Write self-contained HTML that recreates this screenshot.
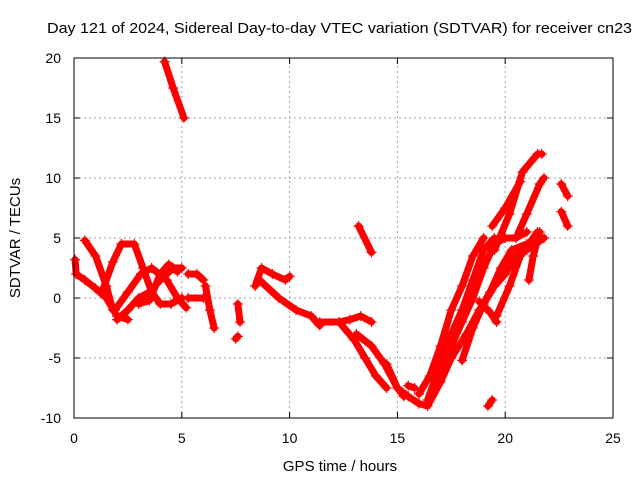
<!DOCTYPE html>
<html><head><meta charset="utf-8"><style>
body{margin:0;background:#fff}
svg{display:block;font-family:"Liberation Sans",sans-serif}
</style></head><body>
<svg id="chart" width="640" height="480" viewBox="0 0 640 480">
<rect width="640" height="480" fill="#fff"/>
<text x="47" y="33" font-size="15" textLength="585" lengthAdjust="spacingAndGlyphs">Day 121 of 2024, Sidereal Day-to-day VTEC variation (SDTVAR) for receiver cn23</text>
<g id="grid"></g>
<g id="marks"></g>
<rect x="74" y="58" width="539" height="360" fill="none" stroke="#000" stroke-width="1"/>
<g id="ticks"></g>
<text x="340" y="471" font-size="15" text-anchor="middle">GPS time / hours</text>
<text transform="translate(20,238) rotate(-90)" font-size="15" text-anchor="middle">SDTVAR / TECUs</text>
</svg>
<script>
const xTicks=[0,5,10,15,20,25];
const yTicks=[-10,-5,0,5,10,15,20];
const tracks=[
[[4.2,19.7],[4.6,17.5],[5.1,15.0]],
[[0.5,4.8],[1,3.5],[1.5,1],[1.8,-1]],
[[0.05,3.2],[0.1,2],[0.5,1.5],[1,0.8],[1.5,0],[2,-1.5],[2.5,-1.8]],
[[1.3,0.5],[1.8,3],[2.2,4.5],[2.8,4.5],[3.2,2.5],[3.6,0.5],[4,-0.5],[4.5,-0.5],[5,0]],
[[2,-1.8],[2.5,-1],[3,0],[3.5,0.5],[4,1.5],[4.6,2.5],[5,2.5]],
[[1.9,-1],[2.5,0.5],[3.1,2],[3.6,2.5],[4.3,1.5],[4.8,0],[5.2,-0.8]],
[[3,-0.5],[3.5,-0.2],[4,2],[4.4,2.8],[4.8,2.2]],
[[5.3,2],[5.7,2],[6,1.5]],
[[5.3,0],[6,0]],
[[6.1,1],[6.3,-1],[6.5,-2.5]],
[[7.5,-3.4],[7.6,-3.2]],
[[7.6,-0.5],[7.7,-2]],
[[8.4,1],[8.7,2.5],[9.2,2],[9.8,1.5],[10,1.8]],
[[8.6,1.5],[9.5,0],[10.3,-1],[11,-1.5],[11.4,-2.3]],
[[11.4,-2],[12.3,-2],[12.8,-1.8],[13.3,-1.5],[13.8,-2]],
[[12.3,-2],[13,-3.5],[13.5,-5],[14,-6.5],[14.5,-7.5]],
[[13.1,-3],[13.8,-4],[14.4,-5.5],[15,-7.5],[15.3,-8.2]],
[[13.2,6],[13.8,3.8]],
[[14.5,-5.5],[15,-7.5],[15.5,-8.2],[16,-8.8],[16.4,-9],[17,-7],[17.5,-5]],
[[15.5,-7.3],[15.8,-7.5]],
[[16,-8],[16.5,-6.5],[17,-4],[17.5,-1],[18,1],[18.5,3.5],[19,5]],
[[16.4,-8.5],[17,-5.5],[17.5,-3],[18,-1],[18.5,1.5],[19,4],[19.5,5]],
[[16.8,-7],[17.5,-4],[18,-2],[18.5,0],[19,2.5],[19.5,4.5],[20,5],[20.5,5],[21,5.5]],
[[17.5,-5],[18.2,-3],[18.8,-1],[19.3,0.5],[19.8,2.5],[20.3,4],[21,4.5],[21.7,5]],
[[18,-5.2],[18.5,-2.5],[19,-0.5],[19.5,1],[20,2],[20.5,3.5],[21,4],[21.8,5]],
[[19.4,6],[20,7.5],[20.7,9.7]],
[[19.5,4],[20.2,7],[20.8,10.5],[21.5,12],[21.7,12]],
[[20.5,5],[21,7],[21.6,9.5],[21.8,10]],
[[19.6,-1.5],[20.2,1],[20.7,3.5],[21.5,5.5]],
[[18.8,-0.3],[19.3,-1.2],[19.6,-2]],
[[21.1,1.5],[21.3,3.5],[21.6,5.5]],
[[19.2,-9],[19.4,-8.5]],
[[22.6,9.5],[22.9,8.5]],
[[22.6,7.2],[22.9,6]]
];
const NS='http://www.w3.org/2000/svg';
const X0=74,X1=613,Y0=418,Y1=58;
function sx(h){return X0+(h-0)/(25-0)*(X1-X0);}
function sy(v){return Y0-(v+10)/(20+10)*(Y0-Y1);}
const grid=document.getElementById('grid'),ticks=document.getElementById('ticks'),marks=document.getElementById('marks');
function mk(t,a,p){const e=document.createElementNS(NS,t);for(const k in a)e.setAttribute(k,a[k]);p.appendChild(e);return e;}
xTicks.forEach(t=>{const x=sx(t);
 if(t>0&&t<25){const g=mk('line',{x1:x,x2:x,y1:Y0,y2:Y1,stroke:'#a0a0a0','stroke-dasharray':'2,3'},grid);
 
 }
 mk('line',{x1:x,x2:x,y1:Y0,y2:Y0-6,stroke:'#000'},ticks);
 mk('line',{x1:x,x2:x,y1:Y1,y2:Y1+6,stroke:'#000'},ticks);
 const l=mk('text',{x:x,y:443,'font-size':14,'text-anchor':'middle'},ticks);l.textContent=t;
 
 });
yTicks.forEach(t=>{const y=sy(t);
 if(t>-10&&t<20){const g=mk('line',{x1:X0,x2:X1,y1:y,y2:y,stroke:'#a0a0a0','stroke-dasharray':'2,3'},grid);
 
 }
 mk('line',{x1:X0,x2:X0+6,y1:y,y2:y,stroke:'#000'},ticks);
 mk('line',{x1:X1,x2:X1-6,y1:y,y2:y,stroke:'#000'},ticks);
 const l=mk('text',{x:61,y:y+5,'font-size':14,'text-anchor':'end'},ticks);l.textContent=t;
 
 });
tracks.forEach(tr=>{
 const p=mk('polyline',{points:tr.map(d=>sx(d[0])+','+sy(d[1])).join(' '),fill:'none',stroke:'#f00','stroke-width':7,'stroke-linecap':'round','stroke-linejoin':'round'},marks);
 
 
 tr.forEach(d=>{const x=sx(d[0]),y=sy(d[1]);
  const c=mk('path',{d:`M${x-5},${y}h10M${x},${y-5}v10`,stroke:'#f00','stroke-width':1.2},marks);
  
  });
});
</script>
</body></html>
